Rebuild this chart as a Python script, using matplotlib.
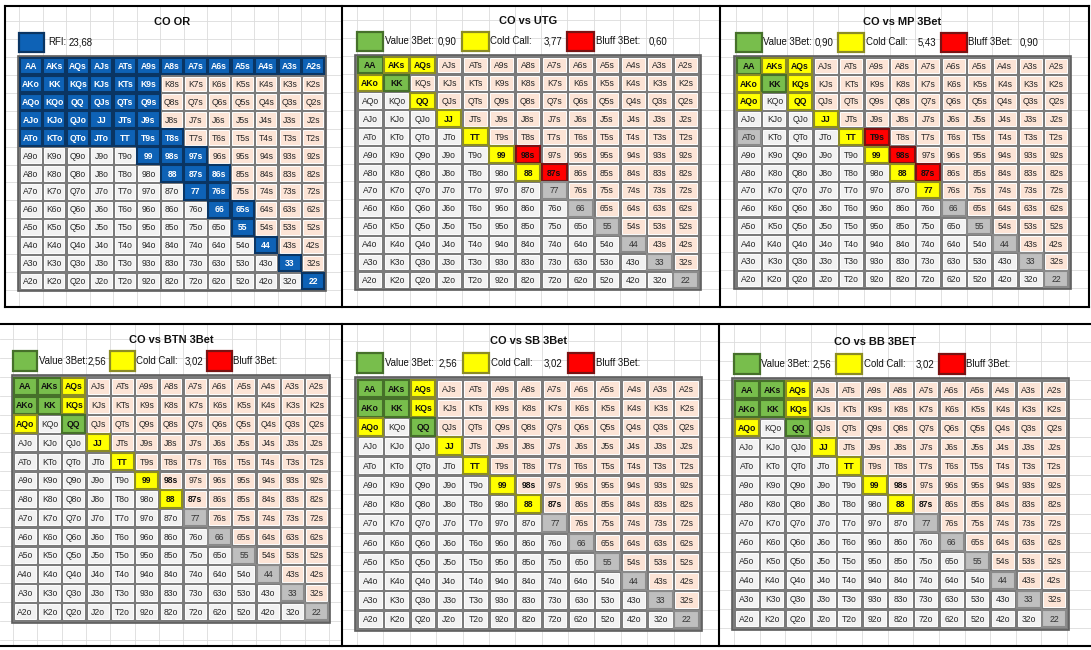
import matplotlib.pyplot as plt
from matplotlib.patches import Rectangle

plt.rcParams['font.family'] = ['Liberation Sans', 'DejaVu Sans']

RANKS = list('AKQJT98765432')

# CO open raise
co_or_open = ['AA', 'AKs', 'AQs', 'AJs', 'ATs', 'A9s', 'A8s', 'A7s', 'A6s', 'A5s', 'A4s', 'A3s', 'A2s',
              'AKo', 'KK', 'KQs', 'KJs', 'KTs', 'K9s',
              'AQo', 'KQo', 'QQ', 'QJs', 'QTs', 'Q9s',
              'AJo', 'KJo', 'QJo', 'JJ', 'JTs', 'J9s',
              'ATo', 'KTo', 'QTo', 'JTo', 'TT', 'T9s', 'T8s',
              '99', '98s', '97s', '88', '87s', '86s', '77', '76s',
              '66', '65s', '55', '44', '33', '22']
co_or_rfi = '23,68'

# CO vs UTG
utg_value = ['AA', 'KK']
utg_call = ['AKs', 'AQs', 'AKo', 'QQ', 'JJ', 'TT', '99', '88']
utg_bluff = ['98s', '87s']
utg_grey = ['77', '66', '55', '44', '33', '22']
utg_stats = ['0,90', '3,77', '0,60']

# CO vs MP 3bet
mp_value = ['AA', 'KK']
mp_call = ['AKs', 'AQs', 'KQs', 'AKo', 'AQo', 'QQ', 'JJ', 'TT', '99', '88', '77']
mp_bluff = ['T9s', '98s', '87s']
mp_grey = ['ATo', '66', '55', '44', '33', '22']
mp_stats = ['0,90', '5,43', '0,90']

# CO vs BTN / SB / BB 3bet (same range)
late_value = ['AA', 'AKs', 'AKo', 'KK', 'QQ']
late_call = ['AQs', 'KQs', 'AQo', 'JJ', 'TT', '99', '88']
late_bold = ['98s', '87s']
late_grey = ['77', '66', '55', '44', '33', '22']
late_stats = ['2,56', '3,02', '']

titles = ['CO OR', 'CO vs UTG', 'CO vs MP 3Bet', 'CO vs BTN 3Bet', 'CO vs SB 3Bet', 'CO vs BB 3BET']

# colours: fill, edge, text colour, weight
STYLE = {
    'open': ('#0e62b6', '#0a3563', 'white', 'bold'),
    'value': ('#78be4c', '#46702a', '#111111', 'bold'),
    'call': ('#ffff00', '#8c8c24', '#111111', 'bold'),
    'bluff': ('#ff0000', '#7a1212', '#111111', 'bold'),
    'grey': ('#bfbfbf', '#8a8a8a', '#333333', 'normal'),
}
SUITED = '#fce4d6'
OFFSUIT = '#f2f2f2'
LEG_COLORS = [STYLE['value'], STYLE['call'], STYLE['bluff']]
LEG_NAMES = ['Value 3Bet:', 'Cold Call:', 'Bluff 3Bet:']


def hand_at(i, j):
    if i == j:
        return RANKS[i] * 2
    if j > i:
        return RANKS[i] + RANKS[j] + 's'
    return RANKS[j] + RANKS[i] + 'o'


def build(groups):
    out = {}
    for key, hands in groups:
        for h in hands:
            out[h] = key
    return out


panel_ranges = [
    build([('open', co_or_open)]),
    build([('value', utg_value), ('call', utg_call), ('bluff', utg_bluff), ('grey', utg_grey)]),
    build([('value', mp_value), ('call', mp_call), ('bluff', mp_bluff), ('grey', mp_grey)]),
    build([('value', late_value), ('call', late_call), ('bold', late_bold), ('grey', late_grey)]),
    build([('value', late_value), ('call', late_call), ('bold', late_bold), ('grey', late_grey)]),
    build([('value', late_value), ('call', late_call), ('bold', late_bold), ('grey', late_grey)]),
]
panel_stats = [None, utg_stats, mp_stats, late_stats, late_stats, late_stats]

# layout in pixels: panel frame, grid box, title column
W, H = 1091, 650
frames = [(5, 6, 342, 307), (342, 6, 720, 307), (720, 6, 1089, 307),
          (0, 324, 342, 646), (342, 324, 719, 646), (719, 324, 1091, 646)]
grids = [(19, 57, 325, 290), (357, 56, 699, 289), (736, 57, 1069, 288),
         (13, 377, 329, 621), (357, 379, 700, 629), (734, 380, 1067, 628)]
title_col = [6.5, 6.5, 6.5, 6.5, 6.5, 5.5]

fig = plt.figure(figsize=(W / 100, H / 100), dpi=100)

for p in range(6):
    fx0, fy0, fx1, fy1 = frames[p]
    gx0, gy0, gx1, gy1 = grids[p]
    cw = (gx1 - gx0) / 13
    ch = (gy1 - gy0) / 13
    ax = fig.add_axes([fx0 / W, 1 - fy1 / H, (fx1 - fx0) / W, (fy1 - fy0) / H])
    ax.set_xlim((fx0 - gx0) / cw, (fx1 - gx0) / cw)
    ax.set_ylim((fy1 - gy0) / ch, (fy0 - gy0) / ch)
    ax.axis('off')

    # faint spreadsheet gridlines
    x_lo, x_hi = ax.get_xlim()
    y_hi, y_lo = ax.get_ylim()
    for k in range(int(x_lo), int(x_hi) + 1):
        ax.axvline(k, color='#dcdcdc', lw=0.6, zorder=0)
    for k in range(int(y_lo) - 1, int(y_hi) + 1):
        ax.axhline(k, color='#dcdcdc', lw=0.6, zorder=0)

    ax.text(title_col[p], -1.98, titles[p], ha='center', va='center',
            fontsize=7.9, fontweight='bold', color='#111111', zorder=5)

    # legend row
    if panel_stats[p] is None:
        ax.add_patch(Rectangle((0, -1.36), 1.05, 1.06, facecolor=STYLE['open'][0],
                               edgecolor=STYLE['open'][1], lw=1.6, zorder=3))
        ax.text(1.25, -0.83, 'RFI:', ha='left', va='center', fontsize=6.9,
                color='#111111', zorder=5)
        ax.text(2.12, -0.83, co_or_rfi, ha='left', va='center', fontsize=6.9,
                color='#111111', zorder=5)
    else:
        for k in range(3):
            c0 = 4 * k
            ax.add_patch(Rectangle((c0, -1.36), 1.0, 1.06, facecolor=LEG_COLORS[k][0],
                                   edgecolor=LEG_COLORS[k][1], lw=1.6, zorder=3))
            ax.text(c0 + 1.07, -0.83, LEG_NAMES[k], ha='left', va='center', fontsize=6.9,
                    color='#111111', zorder=5)
            ax.text(c0 + 3.08, -0.83, panel_stats[p][k], ha='left', va='center',
                    fontsize=6.9, color='#111111', zorder=5)

    # grid background
    ax.add_patch(Rectangle((-0.06, -0.08), 13.12, 13.16, facecolor='#7b7b7b',
                           edgecolor='#5e5e5e', lw=1.2, zorder=2))
    rng = panel_ranges[p]
    for i in range(13):
        for j in range(13):
            h = hand_at(i, j)
            key = rng.get(h)
            base = SUITED if j > i else OFFSUIT
            if key in STYLE:
                fc, ec, tc, fw = STYLE[key]
                ax.add_patch(Rectangle((j + 0.03, i + 0.04), 0.94, 0.92, facecolor=fc,
                                       edgecolor=ec, lw=1.5, zorder=3))
            else:
                fc, tc = base, '#262626'
                fw = 'bold' if key == 'bold' else 'normal'
                if key == 'bold':
                    tc = '#111111'
                ax.add_patch(Rectangle((j + 0.07, i + 0.09), 0.86, 0.82, facecolor=fc,
                                       edgecolor='white', lw=0.7, zorder=3))
            ax.text(j + 0.5, i + 0.53, h, ha='center', va='center', fontsize=6.2,
                    color=tc, fontweight=fw, zorder=4)

# panel frames
top = fig.add_axes([0, 0, 1, 1])
top.set_xlim(0, W)
top.set_ylim(H, 0)
top.axis('off')
top.patch.set_visible(False)
top.plot([5, 1089], [6, 6], color='black', lw=1.5)
top.plot([5, 1089], [307, 307], color='black', lw=1.5)
for x in [5, 342, 720, 1089]:
    top.plot([x, x], [6, 307], color='black', lw=1.5)
top.plot([0, W], [324, 324], color='black', lw=1.5)
top.plot([0, W], [646, 646], color='black', lw=1.5)
for x in [342, 719]:
    top.plot([x, x], [324, 646], color='black', lw=1.5)

fig.savefig('out.png', dpi=100)
